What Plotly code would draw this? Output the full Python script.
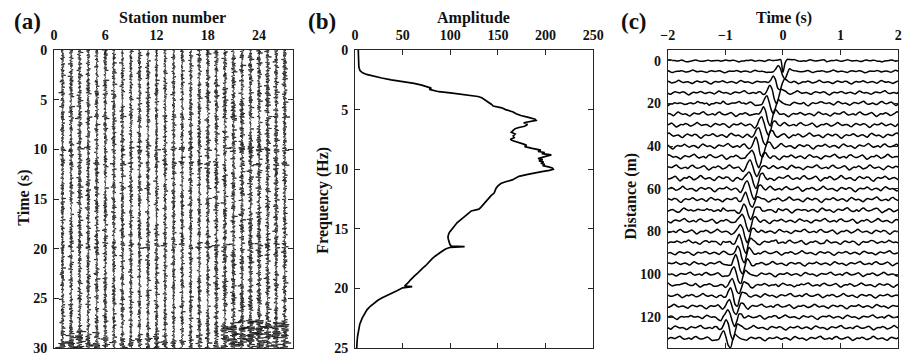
import numpy as np
import plotly.graph_objects as go

# ---------------- Panel (a): raw records per station ----------------
stations = [1, 2, 3, 4, 5, 6, 7, 8, 9, 10, 11, 12, 13, 14, 15, 16, 17, 18, 19, 20, 21, 22, 23, 24, 25, 26, 27]
base_amp = [0.30, 0.30, 0.32, 0.30, 0.30, 0.30, 0.28, 0.28, 0.28, 0.28, 0.27, 0.27, 0.27, 0.27,
            0.27, 0.28, 0.29, 0.30, 0.33, 0.33, 0.35, 0.35, 0.36, 0.36, 0.35, 0.34, 0.33]
late_start = [28.3, 28.3, 28.2, 28.6, 28.4, 28.6, 28.8, 29.0, 29.2, 28.8, 28.8, 28.6, 28.8, 28.9,
              28.8, 28.7, 28.5, 28.8, 28.9, 27.8, 27.4, 27.3, 27.2, 27.2, 27.3, 27.4, 27.3]
late_amp = [0.4, 0.35, 0.45, 0.25, 0.35, 0.3, 0.25, 0.18, 0.18, 0.25, 0.2, 0.2, 0.2, 0.2,
            0.2, 0.2, 0.25, 0.18, 0.22, 0.35, 0.45, 0.45, 0.5, 0.5, 0.45, 0.42, 0.42]
event_times = [4.4, 6.8, 10.0, 11.4, 13.9, 19.7]
event_halfwidth = [0.12, 0.15, 0.2, 0.2, 0.12, 0.25]
event_strength = [0.12, 0.2, 0.2, 0.16, 0.1, 0.18]
event_west_gain = [1.0, 0.5, 0.6, 0.6, 0.8, 1.0]
event_east_gain = [0.4, 1.2, 1.2, 1.0, 0.5, 0.9]
east_first_station = 13
noise_a = [0.3, -0.4, 0.2, -0.3, -0.5, 0.4, 0.1, -0.2, 0.9, -0.3, 0.2, -0.4, 0.3, 0.1, -0.3, 0.4,
           -0.1, -0.9, 0.3, -0.4, 0.2, -0.3, 0.4, 0.0, -0.3, 0.3, -0.4, 0.2, 1.0, -0.5, 0.3, -0.2,
           -0.4, 0.3, 0.2, -0.3, 0.1, -0.4, 0.4, -0.8, 0.3, 0.2, -0.3, 0.4, -0.1, 0.2, -0.4, 0.3,
           -0.3, -0.2, 0.4, 0.9, -0.3, 0.1, -0.2, 0.3, -0.4, 0.2, 0.3, -0.3, 0.2, -0.4, 0.3, -0.1,
           -1.0, 0.4, 0.2, -0.3, 0.3, -0.3, 0.1, -0.4, 0.4, -0.3, 0.2, 0.8, -0.2, -0.4, 0.3, -0.4,
           0.3, -0.3, 0.2, 0.0, -0.4, 0.3, -0.8, 0.2, 0.4, -0.3, 0.3, -0.3, -0.1, 0.4, -0.3, 0.3, -0.2]
noise_a2 = [0.1, -0.2, 0.0, 0.3, -0.1, -0.3, 0.2, 0.1, -0.4, 0.2, 0.0, -0.1, 0.3, -0.2, 0.1, 0.4,
            -0.3, 0.0, 0.2, -0.2, -0.1, 0.3, 0.1, -0.3, 0.2, -0.5, 0.1, 0.2, -0.1, 0.0, 0.3, -0.2,
            0.1, -0.3, 0.4, -0.1, 0.0, 0.2, -0.2, 0.1, -0.1, 0.5, -0.3, 0.1, 0.0, -0.2, 0.2, 0.1,
            -0.3, 0.2, -0.1, 0.3, -0.2]
noise_a_offset = [0, 11, 23, 37, 52, 64, 79, 88, 5, 17, 29, 44, 58, 71, 83, 93, 8, 20, 33, 47,
                  61, 74, 86, 2, 14, 40, 67]

# ---------------- Panel (b): amplitude spectrum ----------------
freq_hz = [0, 0.5, 1.0, 1.4, 1.7, 1.9, 2.05, 2.2, 2.35, 2.5, 2.65, 2.8, 2.95, 3.1, 3.2, 3.3, 3.4,
           3.5, 3.6, 3.7, 3.8, 3.9, 4.0, 4.2, 4.4, 4.55, 4.7, 4.85, 5.0, 5.2, 5.35, 5.5, 5.65, 5.8,
           5.9, 6.0, 6.1, 6.25, 6.4, 6.5, 6.6, 6.75, 6.9, 7.05, 7.2, 7.35, 7.5, 7.6, 7.75, 7.9, 8.0,
           8.1, 8.25, 8.4, 8.5, 8.6, 8.7, 8.8, 8.9, 9.0, 9.1, 9.2, 9.3, 9.4, 9.5, 9.6, 9.7, 9.8,
           9.9, 10.0, 10.1, 10.2, 10.3, 10.45, 10.6, 10.75, 10.9, 11.05, 11.2, 11.4, 11.6, 11.8,
           12.0, 12.2, 12.4, 12.6, 12.8, 13.0, 13.2, 13.35, 13.5, 13.7, 13.9, 14.1, 14.3, 14.5,
           14.7, 14.9, 15.1, 15.3, 15.5, 15.7, 15.9, 16.1, 16.3, 16.45, 16.5, 16.55, 16.7, 16.9,
           17.1, 17.3, 17.5, 17.7, 17.9, 18.1, 18.3, 18.5, 18.7, 18.9, 19.1, 19.3, 19.5, 19.7,
           19.8, 19.85, 19.95, 20.2, 20.4, 20.6, 20.8, 21.0, 21.2, 21.5, 21.8, 22.1, 22.5, 23.0,
           23.5, 24.0, 24.5, 25.0]
amplitude = [3.4, 3.5, 3.7, 4.0, 5.0, 7.5, 12, 19, 28, 38, 52, 62, 70, 77, 80, 78, 82,
             88, 100, 112, 122, 129, 133, 137, 140, 143, 145, 154, 158, 166, 169, 174, 182, 189,
             190, 181, 177, 181, 178, 172, 168, 166, 164, 168, 166, 167, 163, 165, 172, 177, 180,
             178, 186, 195, 192, 199, 196, 206, 201, 195, 192, 197, 193, 198, 195, 199, 197, 203,
             207, 208, 204, 196, 188, 180, 172, 168, 165, 158, 153, 150, 148, 147,
             146, 143, 141, 139, 136, 134, 132, 130, 122, 119, 116, 113, 109, 107,
             105, 103, 101, 99, 98, 97.5, 98, 98.5, 99.5, 101, 115, 100, 95, 91,
             87, 84, 81, 79, 76, 74, 71, 69, 66, 63, 60, 58, 56, 53,
             52, 60, 50, 44, 38, 33, 28, 24, 20.5, 16, 12.5, 10, 7.5, 5,
             3.6, 2.7, 2.1, 1.8]

# ---------------- Panel (c): cross-correlation gather ----------------
distances = [0, 5, 10, 15, 20, 25, 30, 35, 40, 45, 50, 55, 60, 65, 70, 75, 80, 85, 90, 95,
             100, 105, 110, 115, 120, 125, 130]
peak_times = [0.0, -0.085, -0.17, -0.23, -0.28, -0.34, -0.37, -0.42, -0.47, -0.54, -0.57, -0.59,
              -0.62, -0.65, -0.68, -0.71, -0.74, -0.76, -0.79, -0.82, -0.85, -0.88, -0.91, -0.93,
              -0.96, -0.99, -1.03]
wave_scale = [1.0, 0.7, 0.85, 0.95, 1.0, 1.0, 1.0, 1.0, 1.0, 1.0, 1.0, 1.0, 1.0, 1.0,
              1.0, 1.0, 1.0, 1.0, 1.0, 1.0, 1.0, 1.0, 1.0, 1.0, 1.0, 1.0, 1.0]
noise_level = [0.5, 0.6, 0.8, 0.9, 1.0, 1.1, 1.1, 1.2, 1.2, 1.2, 1.2, 1.3, 1.2, 1.2,
               1.2, 1.1, 1.1, 1.1, 1.0, 1.0, 1.0, 1.0, 1.0, 1.0, 1.0, 1.0, 1.0]
# wavelet sampled every 0.04 s (metres of trace deflection, positive = upward)
wavelet_main = [0.0, -0.4, -0.9, -0.3, 1.6, 3.4, 1.2, -3.0, -4.6, -1.4, 1.6, 1.2, 0.1, -0.5, -0.2, 0.0]
wavelet_zero = [0.0, 0.1, 0.3, 0.5, 0.9, -5.4, -1.0, 0.6, 0.5, 0.2, 0.0]
wavelet_center = 5
noise_c = [0.3, 0.6, 0.1, -0.2, -0.1, 0.2, 0.5, -0.1, -0.7, -0.3, 0.1, 0.0, 0.4, 0.1, -0.4,
           -0.2, 0.2, 0.7, 0.2, -0.2, 0.0, 0.1, -0.3, -0.6, 0.0, 0.4, 0.1, -0.1, 0.3, 0.2,
           -0.4, -0.8, -0.2, 0.2, 0.0, 0.1, 0.5, 0.1, -0.3, 0.0, 0.2, -0.1, -0.5, 0.1, 0.6,
           0.2, -0.1, 0.1, -0.2, -0.6, -0.1, 0.3, 0.1, 0.0, 0.4, 0.7, 0.1, -0.3, -0.1, 0.1, -0.3]
noise_c_offset = [0, 7, 13, 22, 31, 40, 5, 17, 29, 44, 52, 3, 11, 26, 38, 48, 57, 9, 20, 33,
                  46, 55, 2, 15, 27, 41, 50]

FONT = "Liberation Serif"
W, H = 917, 357
TOP, BOT = 50, 9
fig = go.Figure()

# ---- traces for panel (a)
dt_a = 0.05
t_a = np.round(np.arange(0, 30.0 + dt_a / 2, dt_a), 4)
na = np.array(noise_a)
na2 = np.array(noise_a2)
for i, s in enumerate(stations):
    env = np.full(t_a.shape, base_amp[i])
    gains = event_east_gain if s >= east_first_station else event_west_gain
    for tc, hw, st, g in zip(event_times, event_halfwidth, event_strength, gains):
        env = env + st * g * (np.abs(t_a - tc) <= hw)
    env = env + late_amp[i] * (t_a >= late_start[i])
    k = np.arange(len(t_a))
    wig = na[(k + noise_a_offset[i]) % len(na)] + na2[(k + 3 * noise_a_offset[i]) % len(na2)]
    fig.add_trace(go.Scatter(x=s + env * wig, y=t_a, xaxis="x", yaxis="y", mode="lines",
                             line=dict(color="#111111", width=0.75), showlegend=False, hoverinfo="skip"))

# ---- spectrum for panel (b)
fig.add_trace(go.Scatter(x=amplitude, y=freq_hz, xaxis="x2", yaxis="y2", mode="lines",
                         line=dict(color="black", width=1.7), showlegend=False, hoverinfo="skip"))

# ---- gather for panel (c)
dt_c = 0.04
nc = np.array(noise_c)
for i, d in enumerate(distances):
    tp = peak_times[i]
    wav = wavelet_zero if i == 0 else wavelet_main
    kmin = int(np.ceil((-2 - tp) / dt_c)) - 1
    kmax = int(np.floor((2 - tp) / dt_c)) + 1
    ks = np.arange(kmin, kmax + 1)
    x = tp + dt_c * ks
    w = np.zeros(len(ks))
    for j, kk in enumerate(ks):
        m = kk + wavelet_center
        if 0 <= m < len(wav):
            w[j] = wav[m]
    gidx = (np.floor((x + 2) / dt_c).astype(int) + noise_c_offset[i]) % len(nc)
    y = d - wave_scale[i] * w - 1.4 * noise_level[i] * nc[gidx]
    fig.add_trace(go.Scatter(x=x, y=y, xaxis="x3", yaxis="y3", mode="lines",
                             line=dict(color="black", width=1.5, shape="spline", smoothing=0.8),
                             showlegend=False, hoverinfo="skip"))

axis_common = dict(showline=True, linecolor="#262626", linewidth=1, mirror="ticks",
                   ticks="inside", ticklen=5, tickwidth=1, tickcolor="#262626",
                   showgrid=False, zeroline=False, fixedrange=True,
                   tickfont=dict(family=FONT, size=14, color="#111111", weight="bold"))

def px2x(p):
    return p / W

def py2y(p):
    return (H - BOT - p) / (H - TOP - BOT)

fig.update_layout(
    width=W, height=H, margin=dict(l=0, r=0, t=TOP, b=BOT),
    paper_bgcolor="white", plot_bgcolor="white",
    xaxis=dict(axis_common, domain=[px2x(48), px2x(292)], range=[0, 28],
               tickvals=[0, 6, 12, 18, 24], side="top", anchor="y", ticklabelstandoff=3),
    yaxis=dict(axis_common, domain=[0, 1], range=[30, 0], tickvals=[0, 5, 10, 15, 20, 25, 30],
               anchor="x", ticklabelstandoff=3),
    xaxis2=dict(axis_common, domain=[px2x(355), px2x(598)], range=[0, 250],
                tickvals=[0, 50, 100, 150, 200, 250], side="top", anchor="y2", ticklabelstandoff=3),
    yaxis2=dict(axis_common, domain=[0, 1], range=[25, 0], tickvals=[0, 5, 10, 15, 20, 25],
                anchor="x2", ticklabelstandoff=3),
    xaxis3=dict(axis_common, domain=[px2x(674), px2x(909)], range=[-2, 2],
                tickvals=[-2, -1, 0, 1, 2], side="top", anchor="y3", ticklabelstandoff=3),
    yaxis3=dict(axis_common, domain=[0, 1], range=[134.5, -5], tickvals=[0, 20, 40, 60, 80, 100, 120],
                anchor="x3", ticklabelstandoff=3),
)

ann = []
def add_text(text, px, py, size, angle=0):
    ann.append(dict(text=text, x=px2x(px), y=py2y(py), xref="paper", yref="paper",
                    showarrow=False, textangle=angle, xanchor="center", yanchor="middle",
                    font=dict(family=FONT, size=size, color="#111111", weight="bold")))

add_text("(a)", 21, 21, 23)
add_text("(b)", 321, 21, 23)
add_text("(c)", 640, 21, 23)
add_text("Station number", 169, 18, 16)
add_text("Amplitude", 476, 18, 16)
add_text("Time (s)", 793, 18, 16)
add_text("Time (s)", 17, 198, 16, -90)
add_text("Frequency (Hz)", 322, 200, 16, -90)
add_text("Distance (m)", 637, 196, 16, -90)
fig.update_layout(annotations=ann)

fig.write_html("out.html")
